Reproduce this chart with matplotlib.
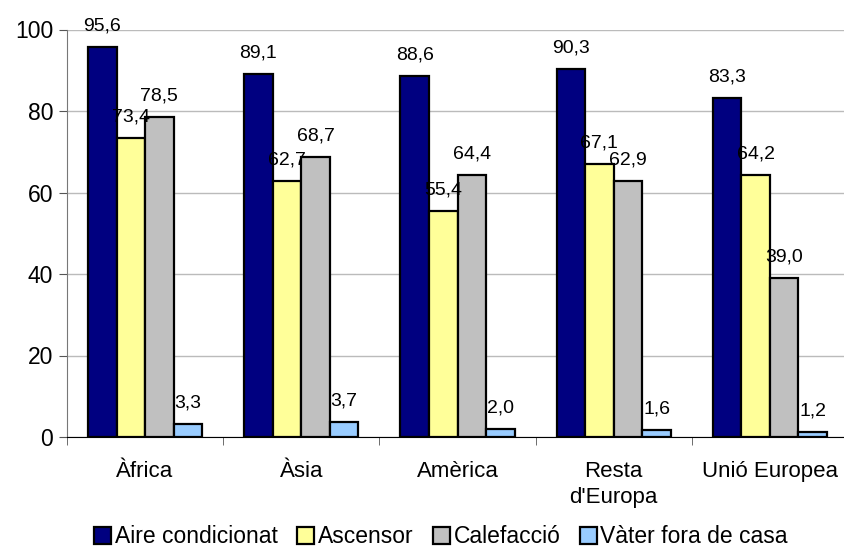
import matplotlib
matplotlib.use("Agg")
import matplotlib.pyplot as plt
import numpy as np

categories = ["Àfrica", "Àsia", "Amèrica", "Resta\nd'Europa", "Unió Europea"]
series_names = ["Aire condicionat", "Ascensor", "Calefacció", "Vàter fora de casa"]
aire = [95.6, 89.1, 88.6, 90.3, 83.3]
ascensor = [73.4, 62.7, 55.4, 67.1, 64.2]
calefaccio = [78.5, 68.7, 64.4, 62.9, 39.0]
vater = [3.3, 3.7, 2.0, 1.6, 1.2]
colors = ["#000080", "#FFFF99", "#C0C0C0", "#99CCFF"]
yticks = [0, 20, 40, 60, 80, 100]

plt.rcParams['font.family'] = ['Liberation Sans', 'DejaVu Sans']

fig = plt.figure(figsize=(8.44, 5.48), dpi=100)
ax = fig.add_axes([67/844, (548-437)/548, (848-67)/844, (437-29.5)/548])

x = np.arange(len(categories))
w = 0.183
series = [aire, ascensor, calefaccio, vater]
for i, (vals, c, name) in enumerate(zip(series, colors, series_names)):
    pos = x + (i - 1.5) * w
    bars = ax.bar(pos, vals, width=w, color=c, edgecolor="black", linewidth=1.6,
                  label=name, zorder=3)
    for b, v in zip(bars, vals):
        ax.annotate(f"{v:.1f}".replace(".", ","), (b.get_x() + b.get_width() / 2, v),
                    xytext=(0, 9), textcoords="offset points", ha="center", va="bottom",
                    fontsize=14, zorder=4)

ax.set_xlim(-0.5, len(categories) - 0.5)
ax.set_ylim(0, 100)
ax.set_yticks(yticks)
ax.set_yticklabels([str(t) for t in yticks], fontsize=16.5)
ax.yaxis.grid(True, color="#BBBBBB", linewidth=1, zorder=0)
ax.set_axisbelow(True)

ax.set_xticks(x)
ax.set_xticklabels(categories, fontsize=16, linespacing=1.35)
ax.set_xticks(np.arange(len(categories) + 1) - 0.5, minor=True)
ax.tick_params(axis="x", which="major", length=0, pad=17)
ax.tick_params(axis="x", which="minor", length=6, color="#555555")
ax.tick_params(axis="y", length=6, color="#555555", pad=4)

for s in ["top", "right"]:
    ax.spines[s].set_visible(False)
ax.spines["left"].set_color("#777777")
ax.spines["bottom"].set_color("black")

leg = fig.legend(loc="lower center", bbox_to_anchor=(0.5225, -0.026), ncol=4, frameon=False,
                 fontsize=16.5, handlelength=0.75, handleheight=0.75, handletextpad=0.15,
                 columnspacing=0.85, borderaxespad=0.2)
for h in leg.legend_handles:
    h.set_linewidth(1.6)
    h.set_edgecolor("black")

fig.savefig("out.png", dpi=100)
